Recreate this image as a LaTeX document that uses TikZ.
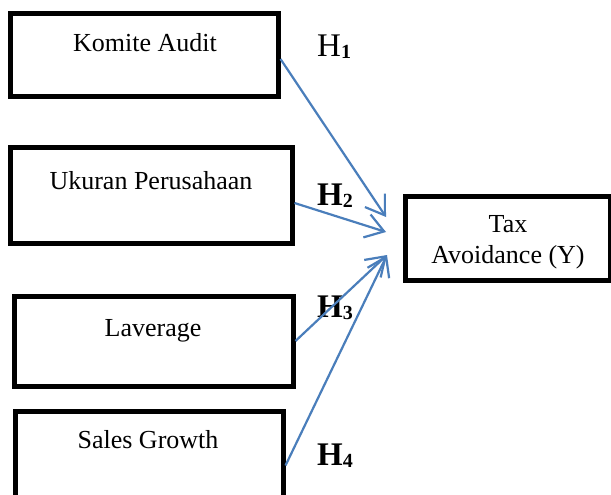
\documentclass[tikz,border=0pt]{standalone}
\usepackage{fontspec}
\setmainfont{Liberation Serif}
\usetikzlibrary{arrows.meta}
\definecolor{arrowblue}{RGB}{74,126,187}
\begin{document}
\begin{tikzpicture}[x=1pt,y=-1pt,
  box/.style={draw=black, line width=5pt, rectangle, inner sep=0pt},
  lab/.style={font=\fontsize{26}{31}\selectfont, anchor=base, inner sep=0pt},
  hyp/.style={font=\fontsize{33}{33}\selectfont, anchor=base west, inner sep=0pt},
  conn/.style={draw=arrowblue, line width=2.2pt, -{Straight Barb[length=18pt,width=24pt]}}]
\useasboundingbox (0,0) rectangle (611,495);
\begin{scope}
\clip (0,0) rectangle (611,495);
\fill[white] (0,0) rectangle (611,495);
\node[box, minimum width=268pt, minimum height=83pt] (b1) at (144,55.5) {};
\node[box, minimum width=282pt, minimum height=96pt] (b2) at (151,195) {};
\node[box, minimum width=279pt, minimum height=90pt] (b3) at (153.5,341) {};
\node[box, minimum width=268pt, minimum height=109pt] (b4) at (149,465.5) {};
\node[box, minimum width=205pt, minimum height=84pt] (y) at (507.5,238) {};
\node[lab] (t1) at (145,52) {Komite Audit};
\node[lab] (t2) at (151,189) {Ukuran Perusahaan};
\node[lab] (t3) at (153,336) {Laverage};
\node[lab] (t4) at (148,448) {Sales Growth};
\node[lab] (ty1) at (508,232) {Tax};
\node[lab] (ty2) at (508,263) {Avoidance (Y)};
\node[hyp] (h1) at (317,57) {H\raisebox{-1.5pt}{\fontsize{20}{20}\selectfont\bfseries 1}};
\node[hyp] (h2) at (317,205) {\bfseries H\raisebox{-2pt}{\fontsize{20}{20}\selectfont 2}};
\node[hyp] (h3) at (317,317) {\bfseries H\raisebox{-2pt}{\fontsize{20}{20}\selectfont 3}};
\node[hyp] (h4) at (317,465) {\bfseries H\raisebox{-2pt}{\fontsize{20}{20}\selectfont 4}};
\coordinate (p1) at (386,217);
\coordinate (p2) at (386,232);
\coordinate (p3) at (387,255);
\draw[conn] ([yshift=-3.5pt]b1.east) -- (p1);
\draw[conn] ([yshift=-8pt]b2.east) -- (p2);
\draw[conn] (b3.east) -- (p3);
\draw[conn] (b4.east) -- (p3);
\end{scope}
\end{tikzpicture}
\end{document}
